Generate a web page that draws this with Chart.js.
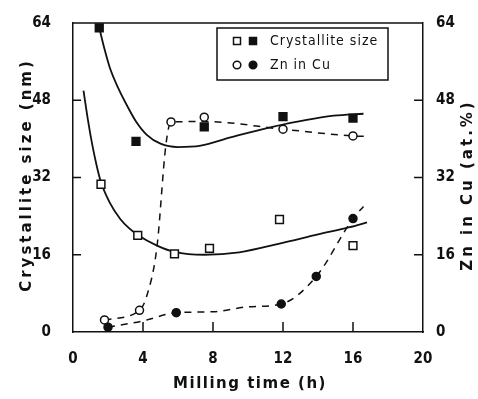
<!DOCTYPE html>
<html>
<head>
<meta charset="utf-8">
<script src="https://cdn.jsdelivr.net/npm/chart.js@4.4.0/dist/chart.umd.min.js"></script>
<style>
  html, body { margin: 0; padding: 0; background: #fff; }
  #wrap { width: 478px; height: 399px; }
</style>
</head>
<body>
<div id="wrap"><canvas id="c" width="478" height="399"></canvas></div>
<script>
(function(){

    "use strict"

    // tick labels
    const xTicks = [0, 4, 8, 12, 16, 20];
    const yTicks = [0, 16, 32, 48, 64];

    // crystallite size (nm), open and filled squares
    const sizeOpenX = [1.6, 3.7, 5.8, 7.8, 11.8, 16];
    const sizeOpenY = [30.6, 20, 16.2, 17.3, 23.3, 17.9];
    const sizeFilledX = [1.5, 3.6, 7.5, 12, 16];
    const sizeFilledY = [63, 39.5, 42.5, 44.6, 44.3];

    // Zn in Cu (at.%), open and filled circles
    const znOpenX = [1.8, 3.8, 5.6, 7.5, 12, 16];
    const znOpenY = [2.5, 4.5, 43.5, 44.5, 42, 40.6];
    const znFilledX = [2, 5.9, 11.9, 13.9, 16];
    const znFilledY = [1, 4, 5.8, 11.5, 23.5];

    // solid fitted curves
    const fitUpperX = [1.5, 1.8, 2.1, 2.6, 3.1, 3.6, 4.2, 5, 6, 7.3, 9, 11.4, 14.9, 16.6];
    const fitUpperY = [63, 58.6, 54.8, 50.4, 46.8, 43.6, 40.9, 39, 38.3, 38.6, 40.3, 42.5, 44.8, 45.2];
    const fitLowerX = [0.6, 0.85, 1.1, 1.35, 1.6, 2.1, 2.7, 3.2, 3.7, 4.8, 5.8, 7.5, 9.5, 11.8, 14, 15.8, 16.8];
    const fitLowerY = [50, 44, 38.8, 34.5, 31, 26.8, 23.4, 21.5, 20.1, 17.9, 16.6, 16, 16.5, 18.3, 20.2, 21.7, 22.7];

    // dashed guide lines
    const dashUpperX = [1.8, 3.8, 4.2, 4.8, 5.3, 5.6, 7.5, 12, 16, 16.9];
    const dashUpperY = [2.5, 4.5, 7.3, 17.7, 38.5, 43.5, 43.6, 42, 40.6, 40.5];
    const dashLowerX = [2, 4, 5.9, 8, 10, 11.9, 13.9, 16, 16.6];
    const dashLowerY = [1, 2.3, 4, 4.2, 5.2, 5.8, 11.5, 23.5, 26];

    const ink = "#111";

    function pts(xs, ys) {
        return xs.map((x, i) => ({x: x, y: ys[i]}));
    }

    function markers(xs, ys, style, filled) {
        return {
            data: pts(xs, ys),
            showLine: false,
            pointStyle: style,
            pointRadius: style === "rect" ? 5.5 : 4,
            pointBackgroundColor: filled ? ink : "#fff",
            pointBorderColor: ink,
            pointBorderWidth: 1.5
        };
    }

    function curve(xs, ys, dashed) {
        return {
            data: pts(xs, ys),
            borderColor: ink,
            borderWidth: dashed ? 1.5 : 1.8,
            borderDash: dashed ? [7, 6] : [],
            cubicInterpolationMode: "monotone",
            pointRadius: 0
        };
    }

    // draw a marker the same way for the legend
    function legendMark(ctx, x, y, square, filled) {
        ctx.beginPath();
        if (square) { ctx.rect(x - 3.5, y - 3.5, 7, 7); }
        else { ctx.arc(x, y, 3.8, 0, Math.PI * 2); }
        ctx.fillStyle = filled ? ink : "#fff";
        ctx.fill();
        ctx.lineWidth = 1.5;
        ctx.strokeStyle = ink;
        ctx.stroke();
    }

    function spacedText(ctx, text, x, y, rot, spacing) {
        ctx.save();
        ctx.translate(x, y);
        ctx.rotate(rot);
        ctx.letterSpacing = spacing + "px";
        ctx.textAlign = "center";
        ctx.textBaseline = "middle";
        ctx.fillText(text, 0, 0);
        ctx.restore();
    }

    // frame, inward ticks, legend box and axis titles
    const decor = {
        id: "decor",
        afterDraw(chart) {
            const ctx = chart.ctx;
            const a = chart.chartArea;
            const sx = chart.scales.x, sy = chart.scales.y;
            ctx.save();
            ctx.strokeStyle = ink;
            ctx.lineWidth = 1.5;
            ctx.beginPath();
            ctx.moveTo(a.left, a.top);
            ctx.lineTo(a.right, a.top);
            yTicks.slice(1, -1).forEach(v => {
                const py = sy.getPixelForValue(v);
                ctx.moveTo(a.left, py); ctx.lineTo(a.left + 8, py);
                ctx.moveTo(a.right, py); ctx.lineTo(a.right - 9, py);
            });
            xTicks.slice(1, -1).forEach(v => {
                const px = sx.getPixelForValue(v);
                ctx.moveTo(px, a.bottom); ctx.lineTo(px, a.bottom - 10);
            });
            ctx.stroke();

            // legend
            ctx.lineWidth = 1.5;
            ctx.strokeRect(217, 28, 171, 52);
            legendMark(ctx, 237, 41, true, false);
            legendMark(ctx, 253, 41, true, true);
            legendMark(ctx, 237, 65, false, false);
            legendMark(ctx, 253, 65, false, true);
            ctx.fillStyle = ink;
            ctx.font = "14px 'DejaVu Sans Condensed'";
            ctx.letterSpacing = "1px";
            ctx.textBaseline = "middle";
            ctx.fillText("Crystallite size", 270, 41);
            ctx.fillText("Zn in Cu", 270, 65);
            ctx.letterSpacing = "0px";

            // axis titles
            ctx.font = "bold 15px 'DejaVu Sans'";
            spacedText(ctx, "Crystallite size (nm)", 27, 175, -Math.PI / 2, 3);
            spacedText(ctx, "Zn in Cu (at.%)", 468, 185, -Math.PI / 2, 3);
            spacedText(ctx, "Milling time (h)", 250, 384, 0, 1.5);
            ctx.restore();
        }
    };

    const tickFont = {family: "'DejaVu Sans Condensed'", size: 15, weight: "bold"};

    new Chart(document.getElementById("c"), {
        type: "line",
        data: {
            datasets: [
                markers(sizeFilledX, sizeFilledY, "rect", true),
                markers(sizeOpenX, sizeOpenY, "rect", false),
                markers(znFilledX, znFilledY, "circle", true),
                markers(znOpenX, znOpenY, "circle", false),
                curve(fitUpperX, fitUpperY, false),
                curve(fitLowerX, fitLowerY, false),
                curve(dashUpperX, dashUpperY, true),
                curve(dashLowerX, dashLowerY, true)
            ]
        },
        options: {
            responsive: false,
            animation: false,
            layout: {padding: {top: 22, left: 0, right: 0, bottom: 0}},
            plugins: {legend: {display: false}, tooltip: {enabled: false}},
            scales: {
                x: {
                    type: "linear", min: 0, max: 20,
                    afterBuildTicks: s => { s.ticks = xTicks.map(v => ({value: v})); },
                    afterFit: s => { s.height = 67; },
                    grid: {display: false},
                    border: {display: true, color: ink, width: 1.5},
                    ticks: {color: ink, font: tickFont, padding: 10, maxRotation: 0}
                },
                y: {
                    type: "linear", position: "left", min: 0, max: 64,
                    afterBuildTicks: s => { s.ticks = yTicks.map(v => ({value: v})); },
                    afterFit: s => { s.width = 73; },
                    grid: {display: false},
                    border: {display: true, color: ink, width: 1.5},
                    ticks: {color: ink, font: tickFont, padding: 14}
                },
                y2: {
                    type: "linear", position: "right", min: 0, max: 64,
                    afterBuildTicks: s => { s.ticks = yTicks.map(v => ({value: v})); },
                    afterFit: s => { s.width = 55; },
                    grid: {display: false},
                    border: {display: true, color: ink, width: 1.5},
                    ticks: {color: ink, font: tickFont, padding: 5}
                }
            }
        },
        plugins: [decor]
    });

}());
</script>
</body>
</html>
